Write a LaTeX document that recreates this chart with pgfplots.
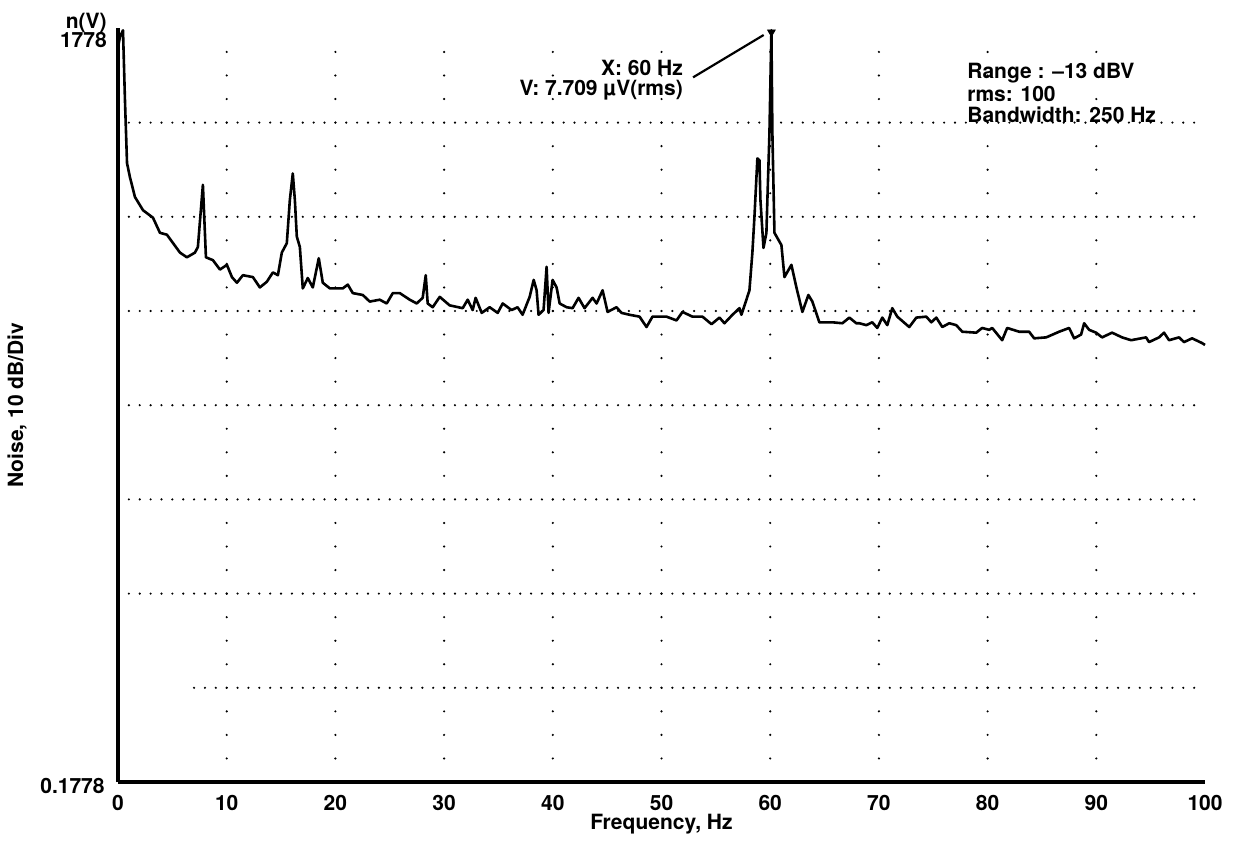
\documentclass[border=0pt]{standalone}
\usepackage{fontspec}
\setmainfont{TeX Gyre Heros}
\usepackage{pgfplots}
\pgfplotsset{compat=1.18}
\begin{document}
\begin{tikzpicture}
\useasboundingbox (-59pt,-32pt) rectangle (558pt,391pt);
\begin{axis}[
  at={(0,0)}, anchor=south west,
  scale only axis, width=543.5pt, height=376.8pt,
  xmin=0, xmax=100, ymin=0, ymax=80,
  axis x line=bottom, axis y line=left,
  axis line style={-, line width=1.6pt},
  xtick={0,10,...,100}, ytick=\empty,
  major tick length=0pt,
  /pgf/number format/assume math mode=true,
  xticklabel style={font=\fontsize{10.5}{12}\selectfont\bfseries, inner sep=0pt, anchor=north, yshift=-6.5pt},
  clip=false,
  font=\fontsize{10.5}{12}\selectfont\bfseries,
]
% dotted grid
\pgfplotsinvokeforeach{20,30,...,70}{
  \draw[line width=1.2pt, line cap=round, dash pattern=on 0pt off 5.435pt] (axis cs:1,#1) -- (axis cs:99.5,#1);
}
\draw[line width=1.2pt, line cap=round, dash pattern=on 0pt off 5.435pt] (axis cs:7,10) -- (axis cs:99.5,10);
\pgfplotsinvokeforeach{10,20,...,90}{
  \draw[line width=1.2pt, line cap=round, dash pattern=on 0pt off 11.775pt] (axis cs:#1,2.5) -- (axis cs:#1,77.6);
}
\addplot[black, line width=1.3pt, line join=round] coordinates {
(0.00,78.0) (0.18,79.1) (0.46,79.8) (0.64,72.4) (0.83,65.7) (1.10,64.2) (1.56,62.1)
(2.30,60.7) (3.22,59.9) (3.86,58.3) (4.50,58.1) (5.70,56.2) (6.34,55.7) (7.08,56.2)
(7.35,56.8) (7.81,63.4) (8.09,55.7) (8.73,55.4) (9.38,54.4) (10.02,54.9) (10.48,53.6)
(10.94,53.0) (11.49,53.8) (12.41,53.6) (13.05,52.5) (13.69,53.1) (14.25,54.1) (14.71,53.8)
(15.07,56.2) (15.53,57.2) (15.81,61.8) (16.08,64.6) (16.27,61.8) (16.45,57.9) (16.73,56.8)
(17.00,52.4) (17.46,53.5) (17.92,52.5) (18.47,55.6) (18.84,53.0) (19.49,52.4) (20.68,52.4)
(21.14,52.8) (21.60,51.9) (22.52,51.7) (23.16,51.0) (24.08,51.2) (24.72,50.8) (25.28,51.9)
(25.92,51.9) (26.84,51.2) (27.48,50.8) (28.03,51.4) (28.31,53.8) (28.49,50.8) (28.95,50.4)
(29.60,51.5) (30.51,50.6) (31.71,50.3) (32.17,51.2) (32.63,50.1) (32.90,51.4) (33.46,49.8)
(34.19,50.4) (34.93,49.8) (35.39,50.8) (36.21,50.1) (36.76,50.4) (37.22,49.6) (37.87,51.5)
(38.24,53.3) (38.51,52.2) (38.69,49.6) (39.15,50.1) (39.43,54.7) (39.61,49.8) (39.98,53.3)
(40.35,52.5) (40.63,50.8) (41.27,50.4) (41.82,50.3) (42.37,51.4) (42.92,50.3) (43.66,51.4)
(44.03,50.8) (44.58,52.2) (45.04,49.9) (45.86,50.4) (46.32,49.8) (47.06,49.6) (47.98,49.4)
(48.62,48.3) (49.17,49.4) (49.82,49.4) (50.46,49.4) (51.38,49.0) (51.93,49.9) (52.85,49.4)
(53.77,49.4) (54.60,48.6) (55.33,49.3) (55.79,48.7) (56.53,49.6) (57.17,50.3) (57.35,49.6)
(57.81,51.2) (58.09,52.2) (58.36,56.2) (58.55,60.0) (58.82,66.2) (59.01,66.0) (59.10,61.8)
(59.38,56.7) (59.65,58.3) (59.74,61.8) (59.93,68.9) (60.11,79.8) (60.20,68.9) (60.39,58.3)
(61.03,57.0) (61.31,53.6) (61.95,54.9) (62.41,52.5) (62.96,49.9) (63.51,51.7) (63.88,51.0)
(64.52,48.8) (65.72,48.8) (66.64,48.7) (67.28,49.3) (67.92,48.7) (68.20,48.7) (68.84,48.5)
(69.39,48.8) (69.85,48.2) (70.31,49.3) (70.77,48.5) (71.23,50.3) (71.69,49.4) (72.79,48.3)
(73.44,49.3) (74.36,49.4) (74.82,48.8) (75.28,49.3) (75.83,48.3) (76.47,48.7) (77.11,48.5)
(77.67,47.8) (78.95,47.7) (79.50,48.2) (80.15,48.0) (80.42,48.2) (81.34,46.9) (81.80,48.2)
(82.90,47.8) (83.82,47.8) (84.28,47.1) (85.39,47.2) (86.58,47.8) (87.50,48.2) (87.96,47.1)
(88.60,47.5) (88.88,48.7) (89.34,48.0) (89.98,47.7) (90.53,47.2) (91.45,47.7) (92.37,47.2)
(93.20,46.9) (94.58,47.2) (94.85,46.7) (95.77,47.2) (96.23,47.7) (96.69,46.9) (97.61,47.2)
(98.07,46.7) (98.81,47.1) (99.72,46.6) (100.00,46.4)
};
% cursor marker at the 60 Hz peak
\addplot[only marks, mark=triangle*, mark size=2.2pt, mark options={rotate=180, fill=black}] coordinates {(60.11,79.6)};
\draw[line width=1.1pt] (axis cs:52.9,74.8) -- (axis cs:59.4,79.3);
\node[anchor=base east, inner sep=0pt, text height=7.5pt, text depth=0.5pt] at (axis cs:52.0,75.05) {X: 60 Hz};
\node[anchor=base east, inner sep=0pt, text height=7.5pt, text depth=0.5pt] at (axis cs:52.0,72.93) {V: 7.709 µV(rms)};
\node[anchor=base west, inner sep=0pt, text height=7.5pt, text depth=1pt] at (axis cs:78.1,74.63) {Range : –13 dBV};
\node[anchor=base west, inner sep=0pt, text height=7.5pt, text depth=1pt] at (axis cs:78.1,72.19) {rms: 100};
\node[anchor=base west, inner sep=0pt, text height=7.5pt, text depth=1pt] at (axis cs:78.1,69.96) {Bandwidth: 250 Hz};
% axis value labels
\node[anchor=east, inner sep=0pt] at (axis cs:-1.0,80.6) {n(V)};
\node[anchor=east, inner sep=0pt] at (axis cs:-1.0,78.8) {1778};
\node[anchor=east, inner sep=0pt] at (axis cs:-1.2,-0.42) {0.1778};
% axis titles
\node[rotate=90, inner sep=0pt] at (axis cs:-9.29,40) {Noise, 10 dB/Div};
\node[anchor=base, inner sep=0pt] at (axis cs:50,-4.99) {Frequency, Hz};
\end{axis}
\end{tikzpicture}
\end{document}
